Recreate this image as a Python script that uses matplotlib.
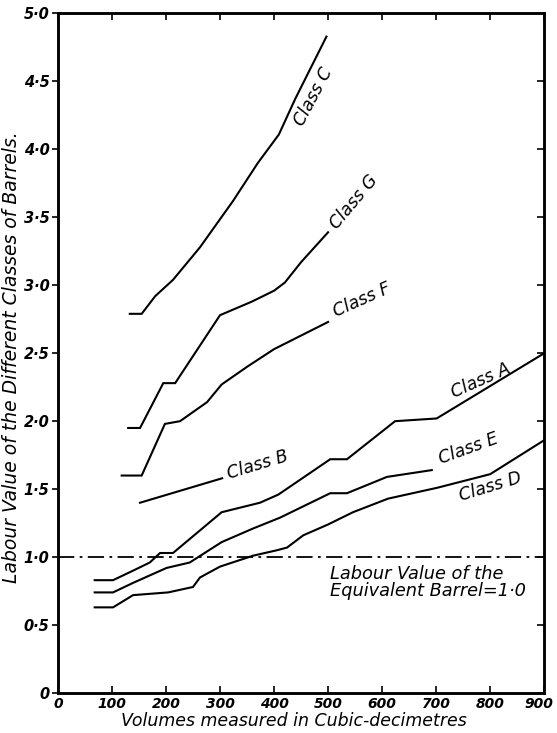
"""Labour value of barrel classes against volume."""

import matplotlib

matplotlib.use("Agg")
import matplotlib.pyplot as plt
import matplotlib.transforms as mtransforms

# volumes (cubic decimetres) and labour values
class_c_x = [133, 155, 180, 213, 263, 324, 370, 409, 439, 497]
class_c_y = [2.79, 2.79, 2.92, 3.04, 3.28, 3.62, 3.90, 4.11, 4.37, 4.83]

class_g_x = [130, 152, 195, 217, 300, 359, 400, 420, 450, 500]
class_g_y = [1.95, 1.95, 2.28, 2.28, 2.78, 2.88, 2.96, 3.02, 3.17, 3.39]

class_f_x = [118, 155, 198, 226, 276, 303, 350, 400, 500]
class_f_y = [1.60, 1.60, 1.98, 2.00, 2.14, 2.27, 2.40, 2.53, 2.73]

class_b_x = [152, 304]
class_b_y = [1.40, 1.58]

class_a_x = [68, 102, 139, 170, 189, 213, 303, 374, 408, 504, 535, 624, 701, 900]
class_a_y = [0.83, 0.83, 0.90, 0.96, 1.03, 1.03, 1.33, 1.40, 1.46, 1.72, 1.72, 2.00, 2.02, 2.50]

class_e_x = [68, 102, 139, 201, 244, 303, 361, 411, 504, 535, 609, 692]
class_e_y = [0.74, 0.74, 0.81, 0.92, 0.96, 1.11, 1.21, 1.29, 1.47, 1.47, 1.59, 1.64]

class_d_x = [68, 102, 139, 204, 250, 263, 300, 361, 405, 424, 454, 500, 546, 611, 702, 800, 900]
class_d_y = [0.63, 0.63, 0.72, 0.74, 0.78, 0.85, 0.93, 1.01, 1.05, 1.07, 1.16, 1.24, 1.33, 1.43, 1.51, 1.61, 1.86]

equivalent_value = 1.0

x_ticks = [0, 100, 200, 300, 400, 500, 600, 700, 800, 900]
y_ticks = [0, 0.5, 1.0, 1.5, 2.0, 2.5, 3.0, 3.5, 4.0, 4.5, 5.0]
y_tick_labels = ["0", "0·5", "1·0", "1·5", "2·0", "2·5", "3·0", "3·5", "4·0", "4·5", "5·0"]

# label text, anchor (x, y) and rotation
class_labels = [
    ("Class C", 472, 4.39, 62),
    ("Class G", 548, 3.61, 50),
    ("Class F", 563, 2.89, 24),
    ("Class B", 369, 1.68, 17),
    ("Class A", 783, 2.30, 24),
    ("Class E", 759, 1.80, 20),
    ("Class D", 800, 1.52, 17),
]

plt.rcParams["font.family"] = ["DejaVu Sans"]
plt.rcParams["font.style"] = "italic"

fig = plt.figure(figsize=(5.57, 7.33), dpi=100)
ax = fig.add_axes([0.104, 0.0546, 0.873, 0.927])

series = [
    (class_c_x, class_c_y),
    (class_g_x, class_g_y),
    (class_f_x, class_f_y),
    (class_b_x, class_b_y),
    (class_a_x, class_a_y),
    (class_e_x, class_e_y),
    (class_d_x, class_d_y),
]
for xs, ys in series:
    ax.plot(xs, ys, color="black", lw=1.5, solid_joinstyle="miter")

ax.axhline(equivalent_value, color="black", lw=1.3, dashes=(9, 3, 1.5, 3))

for text, x, y, rot in class_labels:
    ax.text(x, y, text, rotation=rot, ha="center", va="center", fontsize=12.5,
            style="italic", rotation_mode="anchor")

ax.text(503, 0.945, "Labour Value of the\nEquivalent Barrel=1·0", ha="left", va="top",
        fontsize=12.8, style="italic", linespacing=0.95)

ax.set_xlim(0, 900)
ax.set_ylim(0, 5)
ax.set_xticks(x_ticks)
ax.set_xticklabels([str(v) for v in x_ticks], fontsize=10, style="italic", weight="bold")
ax.set_yticks(y_ticks)
ax.set_yticklabels(y_tick_labels, fontsize=10.5, style="italic", weight="bold")
ax.tick_params(axis="x", direction="in", top=True, length=5, width=1.2, pad=3)
ax.tick_params(axis="y", direction="out", length=4, width=1.2, pad=2)

# last x label sits on the figure edge, nudge it left a little
last = ax.get_xticklabels()[-1]
last.set_transform(last.get_transform() + mtransforms.ScaledTranslation(-4 / 72, 0, fig.dpi_scale_trans))

# right-hand ticks point inwards
right = ax.twinx()
right.set_ylim(ax.get_ylim())
right.set_yticks(y_ticks)
right.tick_params(axis="y", direction="in", length=5, width=1.2, labelright=False)

for axis in (ax, right):
    for side in axis.spines.values():
        side.set_linewidth(1.8)

ax.set_xlabel("Volumes measured in Cubic-decimetres", fontsize=12.5, style="italic")
ax.xaxis.set_label_coords(0.486, -0.028)
ax.xaxis.label.set_va("top")
ax.set_ylabel("Labour Value of the Different Classes of Barrels.", fontsize=13.5,
              style="italic")
ax.yaxis.set_label_coords(-0.076, 0.494)

fig.savefig("out.png", dpi=100)
